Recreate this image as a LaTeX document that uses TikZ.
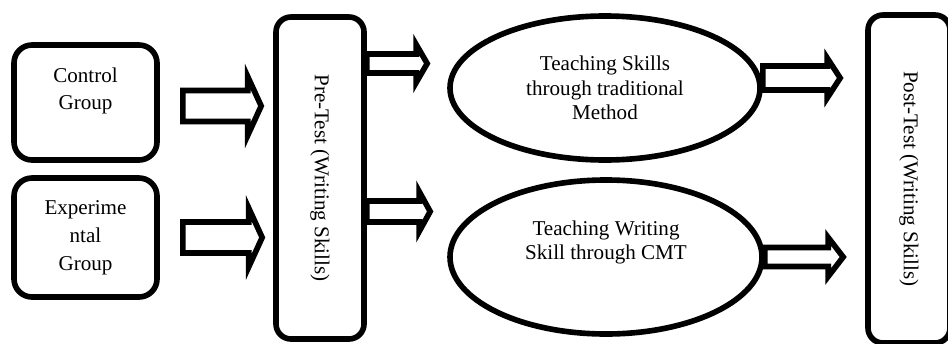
\documentclass[tikz,border=0pt]{standalone}
\usepackage{fontspec}
\setmainfont{Liberation Serif}
\usepackage{graphicx}
\usetikzlibrary{calc,shapes.geometric}

\begin{document}
\begin{tikzpicture}
\tikzstyle{box}=[rectangle,rounded corners=0.36cm,draw,line width=3.2pt,align=center,inner sep=0pt,font=\fontsize{12}{15.8}\selectfont]
\tikzstyle{tall}=[rectangle,rounded corners=0.3cm,draw,line width=3.2pt,inner sep=0pt,font=\fontsize{12}{14}\selectfont]
\tikzstyle{oval}=[ellipse,draw,line width=3.2pt,align=center,inner sep=0pt,font=\fontsize{12}{13.8}\selectfont]
\tikzset{blk/.style n args={3}{draw,line width=3.2pt,fill=white,
  to path={let \p1=(\tikztostart), \p2=(\tikztotarget) in
    (\x1,\y1+#1) -- (\x2-#3,\y1+#1) -- (\x2-#3,\y1+#2) -- (\x2,\y1)
    -- (\x2-#3,\y1-#2) -- (\x2-#3,\y1-#1) -- (\x1,\y1-#1) -- cycle}}}
\useasboundingbox (0,0) rectangle (18.96,6.86);
\clip (0,0) rectangle (18.96,6.86);

\node (1) at (1.71,4.81) [box,minimum width=2.86cm,minimum height=2.30cm]{Control\\Group\\\mbox{}};
\node (2) at (1.71,2.11) [box,minimum width=2.86cm,minimum height=2.38cm]{Experime\\ntal\\Group};

\node (3) at (6.40,3.30) [tall,minimum width=1.76cm,minimum height=6.44cm]{\rotatebox{-90}{Pre-Test (Writing Skills)}};

\node (4) at (12.10,5.10) [oval,minimum width=6.20cm,minimum height=2.88cm]{Teaching Skills\\through traditional\\Method};
\node (5) at (12.12,1.72) [oval,minimum width=6.24cm,minimum height=3.08cm]{Teaching Writing\\Skill through CMT\\[0.2cm]\mbox{}};

\node (6) at (18.18,3.28) [tall,minimum width=1.64cm,minimum height=6.56cm]{\rotatebox{-90}{Post-Test (Writing Skills)}};

\draw[blk={0.31cm}{0.59cm}{0.27cm}] ([shift={(0.46,-0.07)}]1.east) to ($(3.west)+(-0.24,0)$);
\draw[blk={0.31cm}{0.59cm}{0.27cm}] ([shift={(0.46,0)}]2.east) to ($(3.west)+(-0.22,0)$);
\draw[blk={0.19cm}{0.38cm}{0.22cm}] ([yshift=2.29cm]3.east) to ($(4.west)+(-0.40,0)$);
\draw[blk={0.21cm}{0.40cm}{0.22cm}] ([yshift=-0.67cm]3.east) to ($(5.west)+(-0.34,0)$);
\draw[blk={0.24cm}{0.40cm}{0.26cm}] ([yshift=0.2cm]4.east) to ($(6.west)+(-0.50,0)$);
\draw[blk={0.19cm}{0.39cm}{0.30cm}] (5.east) to ($(6.west)+(-0.44,0)$);
\end{tikzpicture}
\end{document}
